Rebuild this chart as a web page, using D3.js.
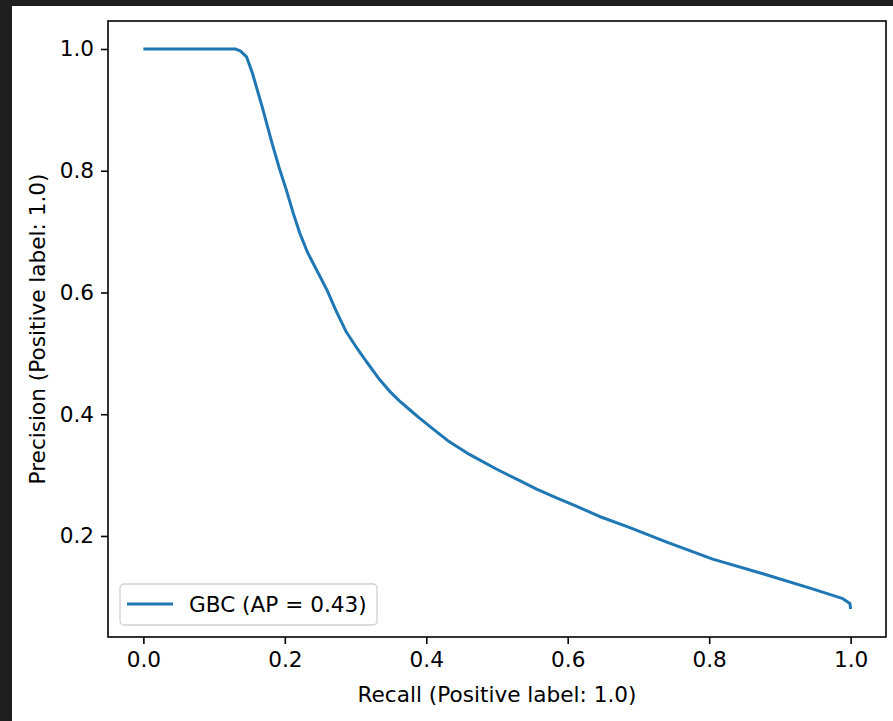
<!DOCTYPE html>
<html>
<head>
<meta charset="utf-8">
<script src="https://cdn.jsdelivr.net/npm/d3@7"></script>
<style>
  html, body { margin: 0; padding: 0; background: #1e1e1e; }
  svg { display: block; }
  text { font-family: "DejaVu Sans", sans-serif; fill: #000; }
</style>
</head>
<body>
<svg id="chart" width="893" height="721"></svg>
<script>
// Precision-recall curve values
const recall = [0, 0.13, 0.137, 0.146, 0.154, 0.168, 0.182, 0.192, 0.202, 0.212, 0.221, 0.232, 0.249, 0.260, 0.272, 0.287, 0.300, 0.315, 0.334, 0.348, 0.362, 0.375, 0.390, 0.405, 0.430, 0.461, 0.499, 0.530, 0.556, 0.585, 0.612, 0.645, 0.687, 0.740, 0.805, 0.876, 0.946, 0.989, 0.999, 1.0];
const precision = [1.0, 1.0, 0.997, 0.987, 0.961, 0.905, 0.845, 0.805, 0.769, 0.730, 0.698, 0.666, 0.628, 0.603, 0.571, 0.535, 0.512, 0.487, 0.457, 0.438, 0.422, 0.409, 0.394, 0.380, 0.357, 0.334, 0.310, 0.292, 0.277, 0.262, 0.249, 0.232, 0.214, 0.190, 0.162, 0.138, 0.113, 0.097, 0.089, 0.080];
const xTicks = [0.0, 0.2, 0.4, 0.6, 0.8, 1.0];
const yTicks = [0.2, 0.4, 0.6, 0.8, 1.0];
const seriesName = "GBC (AP = 0.43)";
const xLabel = "Recall (Positive label: 1.0)";
const yLabel = "Precision (Positive label: 1.0)";

const svg = d3.select("#chart");
const FS = 21.6;
const color = "#1f77b4";

// white figure area
svg.append("rect").attr("x", 12).attr("y", 6).attr("width", 893 - 12).attr("height", 721 - 6).attr("fill", "#ffffff");

const L = 108, R = 886, T = 21, B = 637;
const ymin = d3.min(precision), ymax = d3.max(precision);
const yPad = (ymax - ymin) * 0.05;
const x = d3.scaleLinear().domain([-0.05, 1.05]).range([L, R]);
const y = d3.scaleLinear().domain([ymin - yPad, ymax + yPad]).range([B, T]);

const data = recall.map((r, i) => [r, precision[i]]);

// curve
svg.append("path")
  .datum(data)
  .attr("fill", "none")
  .attr("stroke", color)
  .attr("stroke-width", 3)
  .attr("stroke-linejoin", "round")
  .attr("d", d3.line().x(d => x(d[0])).y(d => y(d[1])));

// axes
const xAxis = svg.append("g").attr("transform", `translate(0,${B})`)
  .call(d3.axisBottom(x).tickValues(xTicks).tickFormat(d3.format(".1f")).tickSize(7).tickPadding(8));
const yAxis = svg.append("g").attr("transform", `translate(${L},0)`)
  .call(d3.axisLeft(y).tickValues(yTicks).tickFormat(d3.format(".1f")).tickSize(7).tickPadding(7));
[xAxis, yAxis].forEach(g => {
  g.select(".domain").remove();
  g.selectAll(".tick line").attr("stroke", "#000").attr("stroke-width", 1.6);
  g.selectAll(".tick text").attr("font-size", FS).attr("font-family", "DejaVu Sans").attr("fill", "#000");
});

// frame
svg.append("rect").attr("x", L).attr("y", T).attr("width", R - L).attr("height", B - T)
  .attr("fill", "none").attr("stroke", "#000").attr("stroke-width", 1.6);

// axis labels
svg.append("text").attr("x", (L + R) / 2).attr("y", 702).attr("text-anchor", "middle")
  .attr("font-size", FS).text(xLabel);
svg.append("text").attr("transform", `translate(45,${(T + B) / 2}) rotate(-90)`)
  .attr("text-anchor", "middle").attr("font-size", FS).text(yLabel);

// legend
const lg = svg.append("g");
lg.append("rect").attr("x", 120).attr("y", 584).attr("width", 257).attr("height", 41)
  .attr("rx", 4).attr("fill", "#fff").attr("fill-opacity", 0.8).attr("stroke", "#d0d0d0").attr("stroke-width", 1.3);
lg.append("line").attr("x1", 127).attr("x2", 173).attr("y1", 604).attr("y2", 604)
  .attr("stroke", color).attr("stroke-width", 3);
lg.append("text").attr("x", 189).attr("y", 604).attr("dy", "0.35em").attr("font-size", FS).text(seriesName);
</script>
</body>
</html>
